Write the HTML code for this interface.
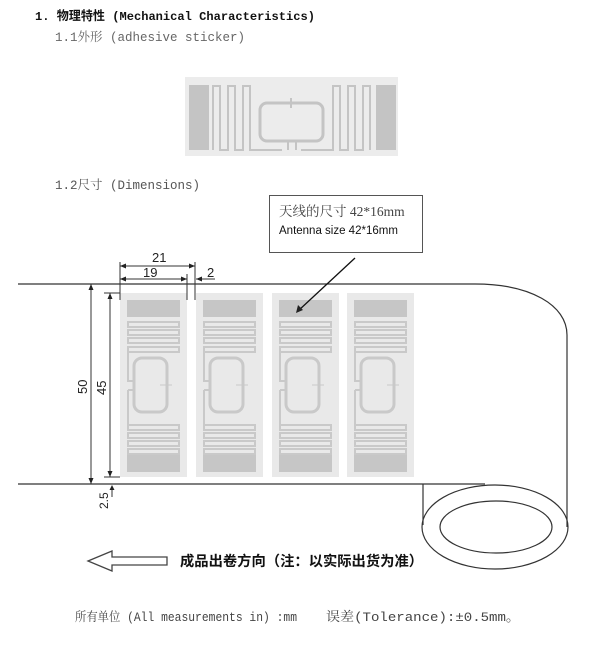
<!DOCTYPE html>
<html><head><meta charset="utf-8"><style>
body{margin:0;background:#fff;}
svg{display:block}
.t{font-family:"Liberation Mono","Noto Sans CJK SC",monospace;}
.m{font-family:"Liberation Mono","Noto Serif CJK SC",monospace;}
.s{font-family:"Liberation Serif","Noto Serif CJK SC",serif;}
.a{font-family:"Liberation Sans","Noto Sans CJK SC",sans-serif;}
</style></head><body>
<svg width="600" height="645" viewBox="0 0 600 645" xmlns="http://www.w3.org/2000/svg">
<defs>
<g id="lab">
  <rect x="0" y="0" width="67" height="184" fill="#e9e9e9"/>
  <rect x="7" y="7" width="53" height="17" fill="#c6c6c6"/>
  <g fill="none" stroke="#c9c9c9" stroke-width="2">
    <rect x="8" y="29" width="51" height="5"/>
    <rect x="8" y="37" width="51" height="5"/>
    <rect x="8" y="45" width="51" height="5"/>
    <rect x="8" y="54" width="51" height="5"/>
    <rect x="8" y="132" width="51" height="5"/>
    <rect x="8" y="140" width="51" height="5"/>
    <rect x="8" y="148" width="51" height="5"/>
    <rect x="8" y="156" width="51" height="5"/>
    <rect x="14" y="65" width="33" height="54" rx="8" stroke-width="3"/>
    <path d="M8 59 V88 H14 M8 97 V132 M8 97 H14"/>
    <path d="M40 92 H52 M46 88 V96" stroke-width="1"/>
  </g>
  <rect x="7" y="162" width="53" height="17" fill="#c6c6c6"/>
</g>
</defs>

<text x="35" y="20" class="t" font-size="12.3" font-weight="bold" fill="#111" textLength="280" lengthAdjust="spacingAndGlyphs">1. 物理特性 (Mechanical Characteristics)</text>
<text x="55" y="41" class="m" font-size="12.5" fill="#666">1.1外形 (adhesive sticker)</text>

<!-- top sticker -->
<rect x="185" y="77" width="213" height="79" fill="#ececec"/>
<g fill="#c4c4c4">
<rect x="189" y="85" width="20" height="65"/>
<rect x="376" y="85" width="20" height="65"/>
</g>
<g fill="none" stroke="#c4c4c4" stroke-width="2">
<path d="M213 150 V86 H220 V150 H228 V86 H235 V150 H243 V86 H250 V150 H282 V150"/>
<path d="M370 150 V86 H363 V150 H355 V86 H348 V150 H340 V86 H333 V150 H301"/>
<rect x="260" y="103" width="63" height="38" rx="7" stroke-width="3"/>
<path d="M288 141 V150 M296 141 V150 M291 98 V108"/>
</g>

<text x="55" y="189" class="m" font-size="12.5" fill="#555">1.2尺寸 (Dimensions)</text>

<!-- callout -->
<rect x="269.5" y="195.5" width="153" height="57" fill="#fff" stroke="#555"/>
<text x="279" y="216" class="s" font-size="13.5" fill="#444">天线的尺寸 42*16mm</text>
<text x="279" y="234" class="a" font-size="11.5" fill="#111">Antenna size 42*16mm</text>

<!-- tape -->
<g fill="none" stroke="#333" stroke-width="1.2">
<path d="M18 284 H475 C530 284 567 305 567 335 V527"/>
<path d="M18 484 H485"/>
<path d="M423 484 V525"/>
<ellipse cx="495" cy="527" rx="73" ry="42"/>
<ellipse cx="496" cy="527" rx="56" ry="26"/>
</g>

<use href="#lab" x="120" y="293"/>
<use href="#lab" x="196" y="293"/>
<use href="#lab" x="272" y="293"/>
<use href="#lab" x="347" y="293"/>

<!-- dims -->
<g stroke="#333" stroke-width="1" fill="none">
<path d="M120 262 V300 M195 262 V300 M187 274 V300"/>
<path d="M120 266 H195 M120 279 H187"/>
<path d="M196 279 H215"/>
<path d="M91 284 V484 M110 293 V477 M104 293 H120 M104 477 H120"/>
<path d="M112 497 V486"/>
<path d="M355 258 L298 311" stroke="#111" stroke-width="1.3"/>
<path d="M88 561 L112 551 V557 H167 V565 H112 V571 Z" stroke="#444" stroke-width="1.3"/>
</g>
<g fill="#222">
<path d="M120 266 l6 -2.5 v5z M195 266 l-6 -2.5 v5z M120 279 l6 -2.5 v5z M187 279 l-6 -2.5 v5z M196 279 l6 -2.5 v5z"/>
<path d="M91 284 l-2.5 6 h5z M91 484 l-2.5 -6 h5z M110 293 l-2.5 6 h5z M110 477 l-2.5 -6 h5z M112 485 l-2.5 5 h5z"/>
<path d="M296 313 l2 -8 l5 5z"/>
</g>
<text x="152" y="262" class="a" font-size="13" fill="#222">21</text>
<text x="143" y="277" class="a" font-size="13" fill="#222">19</text>
<text x="207" y="277" class="a" font-size="13" fill="#222">2</text>
<text transform="translate(87 394) rotate(-90)" class="a" font-size="13" fill="#222">50</text>
<text transform="translate(106 395) rotate(-90)" class="a" font-size="13" fill="#222">45</text>
<text transform="translate(108 509) rotate(-90)" class="a" font-size="12" fill="#222">2.5</text>

<text x="180" y="566" class="a" font-size="14.3" font-weight="bold" fill="#111">成品出卷方向（注：以实际出货为准）</text>
<text x="75" y="621" class="m" font-size="12.5" fill="#444" textLength="222" lengthAdjust="spacingAndGlyphs">所有单位 (All measurements in) :mm</text>
<text x="326" y="621" class="m" font-size="13" fill="#444" textLength="194" lengthAdjust="spacingAndGlyphs">误差(Tolerance):±0.5mm。</text>
</svg>
</body></html>
